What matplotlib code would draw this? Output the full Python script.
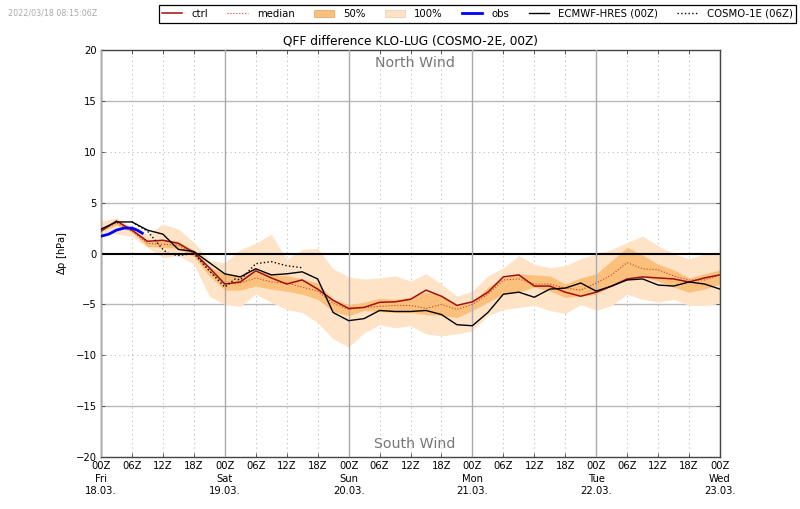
import numpy as np
import matplotlib
matplotlib.use("Agg")
import matplotlib.pyplot as plt
from matplotlib.patches import Patch
from matplotlib.lines import Line2D

hours = list(range(0, 121, 3))

max_100 = [3.2, 3.5, 2.6, 1.9, 2.9, 2.4, 1.1, -0.7, -0.9, 0.4, 1.0, 1.9, -0.55, 0.4, 0.5, -1.5, -2.3,
           -2.5, -2.4, -2.2, -2.7, -2.0, -3.0, -4.2, -3.7, -2.2, -1.4, -0.2, -1.05,
           -1.4, -1.2, -0.5, -0.05, 0.4, 1.1, 1.7, 0.75, -0.05, -0.5, -0.05, -0.05]
min_100 = [2.05, 1.9, 1.7, 0.6, -0.4, -0.2, -1.05, -4.2, -5.0, -5.2, -4.0, -4.8, -5.5, -5.8, -6.8, -8.4, -9.2,
           -7.8, -7.0, -7.3, -7.1, -7.9, -8.1, -7.9, -7.6, -6.1, -5.5, -5.3, -5.1,
           -5.6, -5.9, -5.0, -5.6, -5.1, -4.0, -4.5, -4.8, -4.5, -5.1, -5.1, -4.9]
q75 = [2.4, 3.1, 2.5, 1.1, 1.4, 1.2, 0.3, -1.3, -2.0, -2.2, -1.7, -2.0, -2.2, -2.5, -2.9, -4.5, -5.0,
       -4.8, -4.4, -4.5, -4.3, -3.8, -4.1, -5.1, -4.8, -3.3, -2.4, -2.0, -2.1,
       -2.2, -3.0, -2.4, -2.0, -0.7, 0.6, -0.15, -1.05, -1.6, -2.4, -2.0, -1.6]
q25 = [2.2, 2.8, 2.1, 0.7, 0.6, 0.5, -0.3, -2.2, -3.6, -3.6, -3.2, -3.5, -3.7, -4.0, -4.5, -5.7, -6.1,
       -5.6, -5.7, -5.8, -5.8, -6.0, -6.1, -6.3, -5.6, -4.8, -4.0, -3.8, -3.3,
       -3.7, -4.3, -4.2, -4.0, -3.2, -2.4, -2.3, -2.7, -3.3, -3.8, -3.5, -3.0]
ctrl = [2.2, 3.2, 2.3, 1.2, 1.3, 1.0, 0.1, -1.4, -3.0, -2.8, -1.7, -2.4, -3.0, -2.6, -3.5, -4.6, -5.4,
        -5.3, -4.8, -4.75, -4.5, -3.6, -4.2, -5.1, -4.75, -3.8, -2.3, -2.1, -3.2,
        -3.2, -3.8, -4.2, -3.8, -3.2, -2.5, -2.3, -2.4, -2.5, -2.8, -2.4, -2.1]
median = [2.3, 3.0, 2.2, 1.0, 0.9, 0.8, 0.0, -1.7, -3.0, -2.9, -2.4, -2.8, -2.9, -3.3, -3.7, -4.9, -5.5,
          -5.3, -5.2, -5.1, -5.1, -5.4, -5.0, -5.5, -5.0, -4.0, -2.6, -2.5, -3.0,
          -3.0, -3.4, -3.6, -2.9, -2.1, -0.9, -1.5, -1.6, -2.2, -2.6, -2.6, -2.1]
ecmwf = [2.4, 3.1, 3.1, 2.3, 1.9, 0.4, 0.2, -0.9, -2.0, -2.3, -1.5, -2.1, -2.0, -1.8, -2.5, -5.8, -6.6,
         -6.4, -5.6, -5.7, -5.7, -5.6, -6.0, -7.0, -7.1, -5.8, -4.0, -3.8, -4.3,
         -3.5, -3.4, -2.9, -3.7, -3.2, -2.6, -2.5, -3.1, -3.2, -2.8, -3.0, -3.5]

cosmo1_hours = [6, 9, 12, 13, 15, 18, 21, 24, 26, 27, 30, 33, 36, 39]
cosmo1 = [3.1, 2.2, 0.4, 0.0, -0.2, 0.0, -1.7, -3.3, -2.5, -2.6, -1.0, -0.8, -1.2, -1.4]
obs_hours = [0, 1.5, 3, 4.5, 6, 7, 8]
obs = [1.7, 1.9, 2.3, 2.5, 2.5, 2.3, 2.0]

tick_hours = list(range(0, 121, 6))
day_names = ["Fri", "Sat", "Sun", "Mon", "Tue", "Wed"]
day_dates = ["18.03.", "19.03.", "20.03.", "21.03.", "22.03.", "23.03."]
y_ticks = list(range(-20, 21, 5))

plt.rcParams['font.size'] = 7.2
fig = plt.figure(figsize=(8.0, 5.09), dpi=100)
ax = fig.add_axes([101/800, 1-457/509, 619/800, 407/509])

c100 = '#ffe3c6'
c50 = '#fbc07c'
ax.fill_between(hours, min_100, max_100, color=c100, lw=0, zorder=1)
ax.fill_between(hours, q25, q75, color=c50, lw=0, zorder=2)

ax.plot(hours, median, color='#c83c28', lw=0.8, ls=':', zorder=4)
ax.plot(hours, ctrl, color='#a01010', lw=1.1, zorder=5)
ax.plot(hours, ecmwf, color='k', lw=1.0, zorder=6)
ax.plot(cosmo1_hours, cosmo1, color='k', lw=1.0, ls=':', zorder=6)
ax.plot(obs_hours, obs, color='#0000ff', lw=2.0, zorder=7)
ax.axhline(0, color='k', lw=1.5, zorder=3)

# grid by hand, 00Z solid and the rest dotted
for h in tick_hours:
    if h % 24 == 0:
        ax.axvline(h, color='#aaaaaa', lw=1.0, zorder=3)
    else:
        ax.axvline(h, color='#bbbbbb', lw=0.8, ls=(0, (1, 3)), zorder=0.5)
for y in y_ticks:
    if y % 10 == 0 and y != 0:
        ax.axhline(y, color='#bbbbbb', lw=0.8, ls=(0, (1, 3)), zorder=0.5)
    elif y != 0:
        ax.axhline(y, color='#b8b8b8', lw=1.0, zorder=0.5)

labels = []
for h in tick_hours:
    lab = "%02dZ" % (h % 24)
    if h % 24 == 0:
        d = h // 24
        lab += "\n" + day_names[d] + "\n" + day_dates[d]
    labels.append(lab)
ax.set_xticks(tick_hours)
ax.set_xticklabels(labels, linespacing=1.32)
ax.set_yticks(y_ticks)
ax.tick_params(direction='in', length=3, width=0.6, top=True, right=True, pad=3, color='#444444')
ax.set_xlim(0, 120)
ax.set_ylim(-20, 20)
for s in ax.spines.values():
    s.set_linewidth(1.0)
    s.set_color('#444444')

ax.set_ylabel(r"$\Delta$p [hPa]", fontsize=7.2, labelpad=5)
ax.set_title("QFF difference KLO-LUG (COSMO-2E, 00Z)", fontsize=8.7, pad=4)
ax.text(60.9, 18.7, "North Wind", color='#777777', fontsize=10.2, ha='center', va='center')
ax.text(60.9, -18.7, "South Wind", color='#777777', fontsize=10.2, ha='center', va='center')
fig.text(8/800, 1-13/509, "2022/03/18 08:15:06Z", color='#aaaaaa', fontsize=5.8, va='center')

handles = [Line2D([], [], color='#a01010', lw=1.1),
           Line2D([], [], color='#c83c28', lw=0.8, ls=':'),
           Patch(facecolor=c50, edgecolor='#e0a870', lw=0.6),
           Patch(facecolor=c100, edgecolor='#f0d0b0', lw=0.6),
           Line2D([], [], color='#0000ff', lw=2.0),
           Line2D([], [], color='k', lw=1.0),
           Line2D([], [], color='k', lw=1.0, ls=':')]
names = ["ctrl", "median", "50%", "100%", "obs", "ECMWF-HRES (00Z)", "COSMO-1E (06Z)"]
leg = fig.legend(handles, names, ncol=7, loc='center', bbox_to_anchor=(477.5/800, 1-14/509),
                 fontsize=7.3, frameon=True, fancybox=False, edgecolor='k', framealpha=1,
                 columnspacing=1.9, handlelength=2.0, handletextpad=0.9, borderpad=0.35,
                 borderaxespad=0)
leg.get_frame().set_linewidth(0.9)

fig.savefig("out.png", dpi=100)
